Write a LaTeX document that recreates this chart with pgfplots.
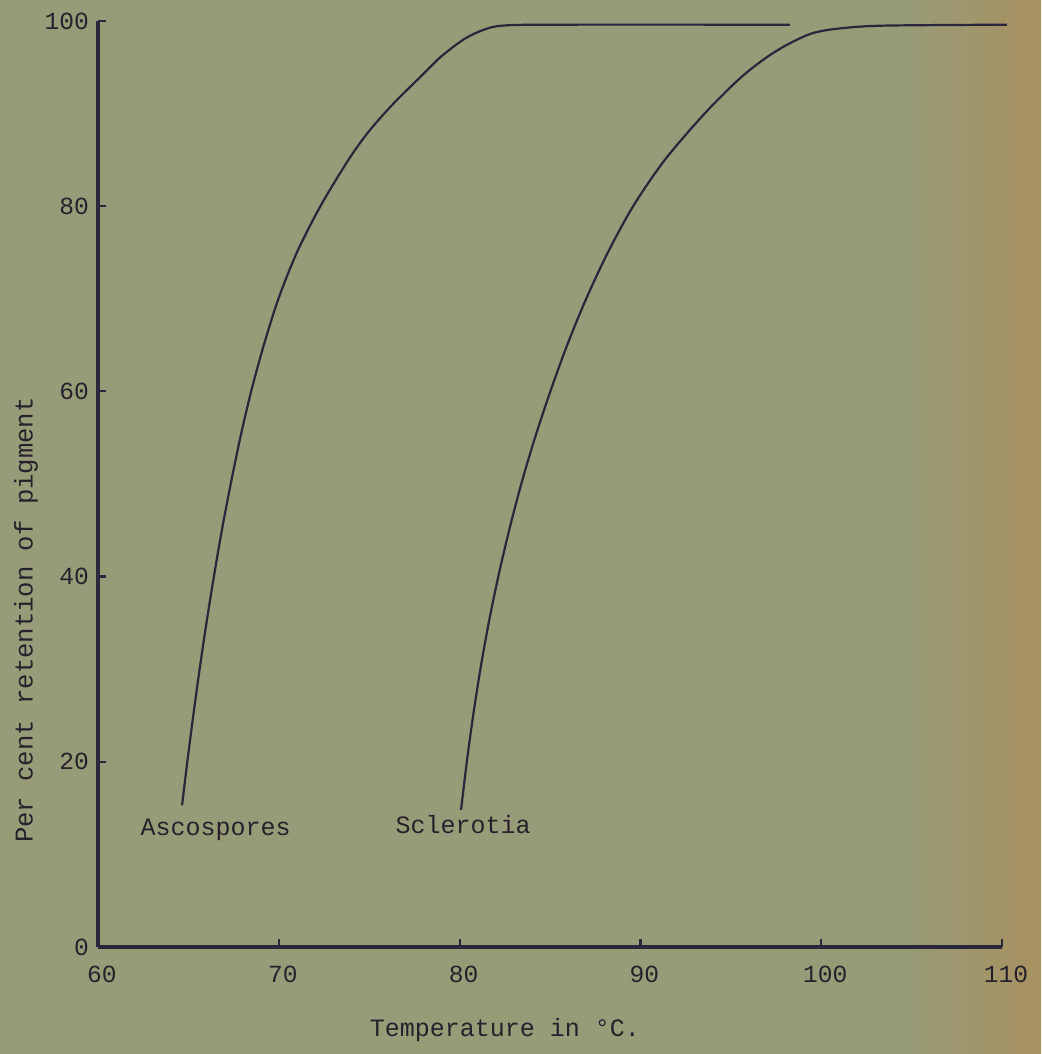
\documentclass[border=0pt]{standalone}
\usepackage{pgfplots}
\pgfplotsset{compat=1.18}
\usepackage{fontspec}
\setmainfont{Liberation Mono}
\definecolor{paper}{RGB}{152,155,119}
\definecolor{paperR}{RGB}{168,145,96}
\definecolor{ink}{RGB}{42,38,60}
\definecolor{txt}{RGB}{38,34,44}
\begin{document}
\begin{tikzpicture}
\fill[paper] (0,0) rectangle (520.5pt,527pt);
\shade[left color=paper,right color=paperR] (455pt,0) rectangle (520.5pt,527pt);
\begin{axis}[
  at={(49pt,53.5pt)}, anchor=south west,
  scale only axis, width=452pt, height=463pt,
  xmin=60, xmax=110, ymin=0, ymax=100,
  axis lines*=left,
  axis line style={-, ink, line width=1.6pt},
  tick align=inside,
  major tick length=4pt,
  tick style={ink, line width=1.1pt},
  xtick={60,70,80,90,100,110},
  ytick={0,20,40,60,80,100},
  /pgf/number format/assume math mode=true,
  tick label style={font=\fontsize{12.3}{14}\selectfont, text=txt},
  xticklabel style={yshift=-6pt, xshift=2pt},
  yticklabel style={xshift=-1pt},
  xlabel={Temperature in °C.},
  ylabel={Per cent retention of pigment},
  label style={font=\fontsize{12.5}{14}\selectfont, text=txt},
  xlabel style={at={(axis description cs:0.45,-0.0896)}, anchor=center},
  ylabel style={at={(axis description cs:-0.0796,0.353)}, anchor=center, font=\fontsize{12.8}{14}\selectfont},
  clip=false,
]
\addplot[ink, line width=1.1pt, smooth] coordinates {
(64.65,15.3) (64.94,20) (65.27,25) (65.62,30) (66.00,35) (66.41,40) (66.85,45)
(67.34,50) (67.87,55) (68.47,60) (69.17,65) (69.98,70) (71.0,75) (72.3,80)
(73.85,85) (74.95,88) (76.3,91) (77.85,94) (79.0,96.2) (80.3,98.1) (81.4,99.1)
(82.4,99.5) (85,99.6) (98.27,99.6)
};
\addplot[ink, line width=1.1pt, smooth] coordinates {
(80.08,14.8) (80.40,20) (80.75,25) (81.15,30) (81.61,35) (82.14,40) (82.74,45)
(83.41,50) (84.17,55) (85.02,60) (85.95,65) (87.0,70) (88.2,75) (89.6,80)
(91.35,85) (93.55,90) (95.5,93.8) (97.00,96.1) (98.27,97.6) (99.55,98.7)
(101.04,99.2) (103.5,99.5) (110.28,99.6)
};
\node[text=txt, font=\fontsize{12.5}{14}\selectfont] at (axis cs:66.5,12.7) {Ascospores};
\node[text=txt, font=\fontsize{12.5}{14}\selectfont] at (axis cs:80.2,13.2) {Sclerotia};
\end{axis}
\end{tikzpicture}
\end{document}
